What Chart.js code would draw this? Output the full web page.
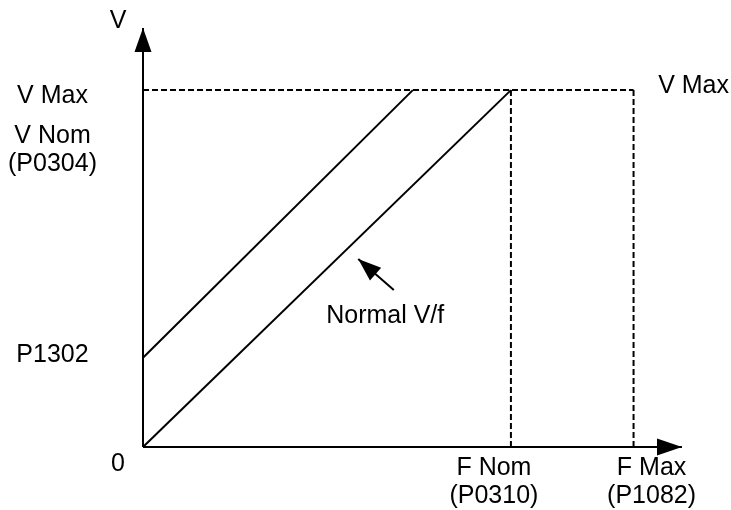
<!DOCTYPE html>
<html><head><meta charset="utf-8">
<script src="https://cdn.jsdelivr.net/npm/chart.js@4.4.1/dist/chart.umd.min.js"></script>
<style>html,body{margin:0;padding:0;background:#fff;overflow:hidden}#wrap{width:731px;height:510px}</style>
</head><body><div id="wrap"><canvas id="c" width="731" height="510"></canvas></div>
<script>
// ---- values (frequency in Hz-like units, voltage in % of V Max) ----
const fNom = 60;
const fMax = 80;
const vMax = 100;
const boostV = 25;          // P1302
const boostEndF = 44;       // where boosted curve reaches V Max
const fAxisEnd = 87.9;
const vAxisEnd = 117.4;

const normalVf   = [{x: 0, y: 0}, {x: fNom, y: vMax}];
const boostedVf  = [{x: 0, y: boostV}, {x: boostEndF, y: vMax}];
const vMaxGuide  = [{x: 0, y: vMax}, {x: fMax, y: vMax}];
const fNomGuide  = [{x: fNom, y: 0}, {x: fNom, y: vMax}];
const fMaxGuide  = [{x: fMax, y: 0}, {x: fMax, y: vMax}];
const fAxis      = [{x: 0, y: 0}, {x: fAxisEnd, y: 0}];
const vAxis      = [{x: 0, y: 0}, {x: 0, y: vAxisEnd}];
const pointer    = [{x: 40.9, y: 44.0}, {x: 35.1, y: 52.7}];
const curveLabelAt = {x: 39.5, y: 34.7};

// tick / annotation texts
const xTickValues = [fNom, fMax];
const xTickLabels = [['F Nom', '(P0310)'], ['F Max', '(P1082)']];
const yTickValues = [vMax, vMax, boostV];
const yTickLabels = [['V Max'], ['V Nom', '(P0304)'], ['P1302']];
const originLabel = '0';
const vAxisTitle = 'V';
const rightLabel = 'V Max';
const curveLabel = 'Normal V/f';

const FONT = '25px "Liberation Sans", Arial, sans-serif';
const LINE_H = 28;

const textPlugin = {
  id: 'textPlugin',
  afterDatasetsDraw(chart) {
    const ctx = chart.ctx, xs = chart.scales.x, ys = chart.scales.y;
    ctx.save();
    ctx.fillStyle = '#000';
    ctx.font = FONT;
    ctx.textAlign = 'center';
    ctx.textBaseline = 'alphabetic';
    const ox = xs.getPixelForValue(0), oy = ys.getPixelForValue(0);
    const draw = (lines, x, y) => lines.forEach((t, i) => ctx.fillText(t, x, y + i * LINE_H));
    // y-side labels
    const yOffsets = [13, 53, 4.5];
    yTickValues.forEach((v, i) => draw(yTickLabels[i], 52.5, ys.getPixelForValue(v) + yOffsets[i]));
    // x-side labels
    const xOffsets = [-17, 18];
    xTickValues.forEach((v, i) => draw(xTickLabels[i], xs.getPixelForValue(v) + xOffsets[i], oy + 28));
    draw([originLabel], ox - 25, oy + 24);
    draw([vAxisTitle], ox - 25, ys.getPixelForValue(vAxisEnd));
    draw([rightLabel], xs.getPixelForValue(fMax) + 60, ys.getPixelForValue(vMax) + 3);
    draw([curveLabel], xs.getPixelForValue(curveLabelAt.x), ys.getPixelForValue(curveLabelAt.y));
    ctx.restore();
  }
};

const arrowPlugin = {
  id: 'arrowPlugin',
  afterDatasetsDraw(chart) {
    const ctx = chart.ctx;
    chart.data.datasets.forEach((ds, i) => {
      if (!ds.arrowHead) return;
      const pts = chart.getDatasetMeta(i).data;
      const a = pts[pts.length - 2], b = pts[pts.length - 1];
      const ang = Math.atan2(b.y - a.y, b.x - a.x);
      const L = ds.arrowHead.len, W = ds.arrowHead.width / 2;
      ctx.save();
      ctx.translate(b.x, b.y);
      ctx.rotate(ang);
      ctx.beginPath();
      ctx.moveTo(0, 0);
      ctx.lineTo(-L, W);
      ctx.lineTo(-L, -W);
      ctx.closePath();
      ctx.fillStyle = '#000';
      ctx.fill();
      ctx.restore();
    });
  }
};

const solid = (data, extra) => Object.assign({data, borderColor: '#000', borderWidth: 2, showLine: true, pointRadius: 0, clip: false}, extra || {});
const dashed = (data) => solid(data, {borderWidth: 2, borderDash: [6, 3]});

new Chart(document.getElementById('c'), {
  type: 'scatter',
  data: {
    datasets: [
      dashed(vMaxGuide),
      dashed(fNomGuide),
      dashed(fMaxGuide),
      solid(normalVf),
      solid(boostedVf),
      solid(fAxis, {arrowHead: {len: 25, width: 17}}),
      solid(vAxis, {arrowHead: {len: 24, width: 17}}),
      solid(pointer, {arrowHead: {len: 23, width: 17}})
    ]
  },
  options: {
    responsive: false,
    animation: false,
    layout: {padding: {left: 143, right: 49, top: 28, bottom: 63}},
    plugins: {legend: {display: false}, tooltip: {enabled: false}},
    scales: {
      x: {type: 'linear', min: 0, max: fAxisEnd, display: false},
      y: {type: 'linear', min: 0, max: vAxisEnd, display: false}
    }
  },
  plugins: [arrowPlugin, textPlugin]
});
</script>
</body></html>
